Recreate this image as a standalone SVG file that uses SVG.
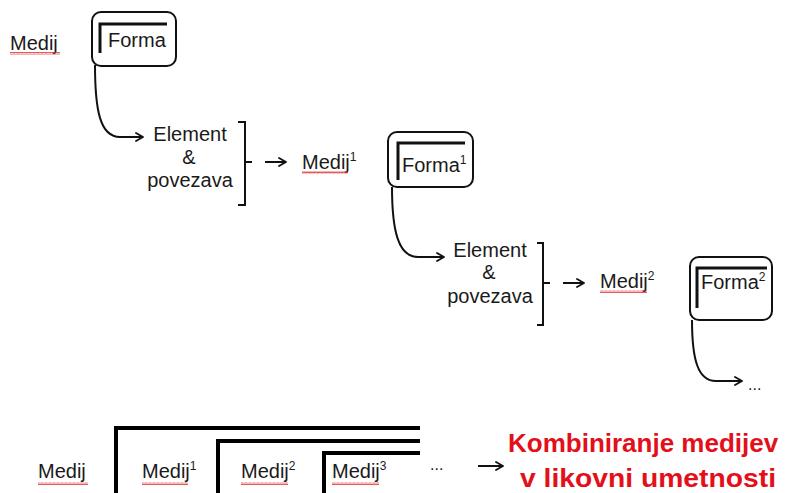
<svg xmlns="http://www.w3.org/2000/svg" width="787" height="493" viewBox="0 0 787 493">
<defs>
<marker id="ah" viewBox="0 0 10 10" refX="9" refY="5" markerWidth="10" markerHeight="10" markerUnits="userSpaceOnUse" orient="auto">
<path d="M2 1 L9 5 L2 9" fill="none" stroke="#111" stroke-width="1.8" stroke-linecap="round" stroke-linejoin="round"/>
</marker>
<pattern id="sq" width="4" height="3" patternUnits="userSpaceOnUse">
<path d="M0 2.5 L1 0.5 L2 2.5 L3 0.5 L4 2.5" fill="none" stroke="#e03030" stroke-width="0.8"/>
</pattern>
</defs>
<style>
text{font-family:"Liberation Sans",Arial,sans-serif;fill:#1a1a1a}
.t{font-size:20px}
.c{text-anchor:middle}
.sup{font-size:12px}
.box{fill:none;stroke:#111;stroke-width:2}
.ell{fill:none;stroke:#111;stroke-width:3}
.br{fill:none;stroke:#111;stroke-width:2}
.conn{fill:none;stroke:#111;stroke-width:2;marker-end:url(#ah)}
.big{fill:none;stroke:#000;stroke-width:4}
.red{font-size:26px;font-weight:bold;fill:#e3101b}
.wv{fill:url(#sq)}
</style>
<rect width="787" height="493" fill="#fff"/>

<g id="medij0">
<text class="t" x="10" y="50">Medij</text>
<rect class="wv" x="10" y="52" width="50" height="3"/>
</g>
<g id="forma0">
<rect class="box" x="92" y="12" width="84" height="54" rx="9"/>
<path class="ell" d="M100 53 V24 H167"/>
<text class="t" x="108" y="47">Forma</text>
</g>
<g id="element1">
<text class="t c" x="190" y="141">Element</text>
<text class="t c" x="189" y="164">&amp;</text>
<text class="t c" x="190" y="187">povezava</text>
<path class="br" d="M238 122 H245 V205 H238 M245 162 H252"/>
</g>
<g id="medij1">
<text class="t" x="302" y="169">Medij<tspan class="sup" dy="-8">1</tspan></text>
<rect class="wv" x="302" y="171" width="46" height="3"/>
</g>
<g id="forma1">
<rect class="box" x="388" y="132" width="85" height="55" rx="9"/>
<path class="ell" d="M398 180 V143 H465"/>
<text class="t" x="402" y="172">Forma<tspan class="sup" dy="-8">1</tspan></text>
</g>
<g id="element2">
<text class="t c" x="490" y="257">Element</text>
<text class="t c" x="489" y="279">&amp;</text>
<text class="t c" x="490" y="303">povezava</text>
<path class="br" d="M537 243 H543 V325 H537 M543 283 H550"/>
</g>
<g id="medij2">
<text class="t" x="600" y="288">Medij<tspan class="sup" dy="-8">2</tspan></text>
<rect class="wv" x="600" y="290" width="47" height="3"/>
</g>
<g id="forma2">
<rect class="box" x="690" y="257" width="82" height="63" rx="9"/>
<path class="ell" d="M697 308 V268 H767"/>
<text class="t" x="701" y="289">Forma<tspan class="sup" dy="-8">2</tspan></text>
</g>
<g id="dots1">
<text x="748" y="390" style="font-size:16px">...</text>
</g>

<g id="connectors">
<path class="conn" d="M95 65 C95 110 100 137 120 137 L143 137"/>
<path class="conn" d="M265 162 H286"/>
<path class="conn" d="M392 187 C392 230 398 257 418 257 L444 257"/>
<path class="conn" d="M563 283 H584"/>
<path class="conn" d="M692 320 C692 360 698 381 716 381 L742 381"/>
<path class="conn" d="M478 466 H503"/>
</g>

<g id="combination">
<path class="big" d="M116 493 V428 H420 M218 493 V441 H420 M324 493 V453 H420"/>
<text class="t" x="38" y="478">Medij</text>
<rect class="wv" x="38" y="482" width="50" height="3"/>
<text class="t" x="142" y="478">Medij<tspan class="sup" dy="-8">1</tspan></text>
<rect class="wv" x="142" y="482" width="46" height="3"/>
<text class="t" x="241" y="478">Medij<tspan class="sup" dy="-8">2</tspan></text>
<rect class="wv" x="241" y="482" width="47" height="3"/>
<text class="t" x="332" y="478">Medij<tspan class="sup" dy="-8">3</tspan></text>
<rect class="wv" x="332" y="482" width="47" height="3"/>
<text x="430" y="470" style="font-size:16px">...</text>
</g>
<g id="result">
<text class="red" x="508" y="452">Kombiniranje medijev</text>
<text class="red" x="520" y="487" textLength="256" lengthAdjust="spacingAndGlyphs">v likovni umetnosti</text>
</g>
</svg>
